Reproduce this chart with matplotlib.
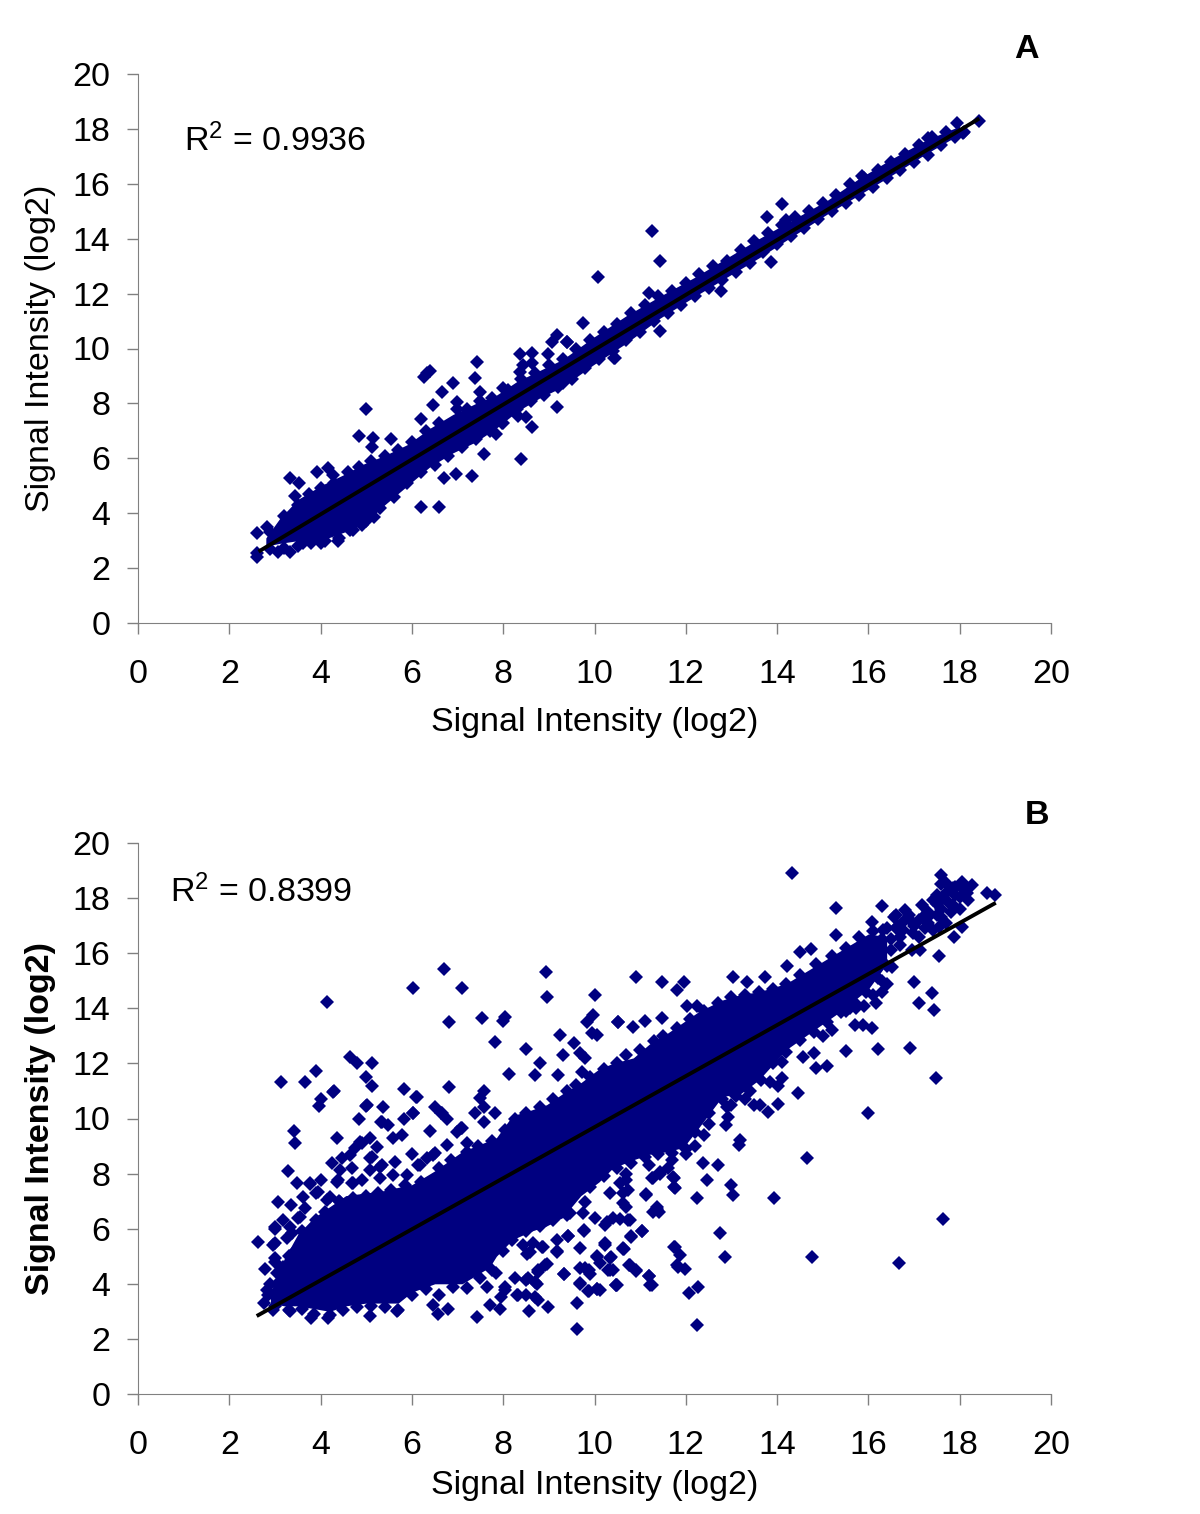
import numpy as np
import matplotlib
matplotlib.use("Agg")
import matplotlib.pyplot as plt

plt.rcParams['font.family'] = ['Liberation Sans', 'DejaVu Sans']
plt.rcParams['mathtext.fontset'] = 'custom'
plt.rcParams['mathtext.rm'] = 'Liberation Sans'
plt.rcParams['mathtext.default'] = 'rm'

NAVY = '#000080'
GREY = '#808080'
FS = 24.5
ticks = [0, 2, 4, 6, 8, 10, 12, 14, 16, 18, 20]
axis_label = 'Signal Intensity (log2)'

# trend lines, read at both ends
a_line_x = [2.64, 18.43]
a_line_y = [2.60, 18.38]
b_line_x = [2.60, 18.79]
b_line_y = [2.83, 17.83]

# solid part of the cloud: single points can't be read there, only its outline
a_core_x = [2.8, 3.1, 3.5, 4.0, 4.5, 4.95, 5.4, 5.9, 6.4, 6.9, 7.4, 7.85, 8.3, 8.8, 9.3, 9.97, 10.7, 11.43,
            12.2, 12.9, 13.6, 14.35, 15.1, 15.8, 16.5, 17.27, 18.0]
a_core_hi = [3.1, 3.8, 4.5, 5.0, 5.4, 5.8, 6.1, 6.5, 7.1, 7.6, 8.0, 8.3, 8.8, 9.2, 9.6, 10.4, 11.2, 11.9,
             12.6, 13.3, 14.0, 14.7, 15.4, 16.2, 16.9, 17.6, 18.1]
a_core_lo = [2.8, 2.9, 3.0, 3.0, 3.3, 3.6, 4.3, 5.0, 5.7, 6.2, 6.6, 7.1, 7.7, 8.2, 8.6, 9.4, 10.2, 11.1,
             11.9, 12.6, 13.3, 14.1, 14.9, 15.6, 16.3, 17.1, 17.8]

b_core_x = [2.9, 3.2, 3.5, 3.85, 4.2, 4.55, 5.0, 5.3, 5.7, 6.0, 6.5, 7.1, 7.7, 7.85, 8.2, 8.6, 8.95, 9.3, 9.7,
            10.1, 10.4, 10.85, 11.2, 11.6, 11.95, 12.3, 12.8, 13.2, 13.6, 14.2, 14.8, 15.4, 16.0, 16.4]
b_core_hi = [3.7, 4.9, 5.8, 6.4, 6.8, 7.2, 7.3, 7.35, 7.5, 7.6, 8.1, 8.8, 9.2, 9.3, 10.1, 10.3, 10.5, 10.9, 11.3,
             11.8, 12.0, 12.2, 12.7, 13.1, 13.5, 13.9, 14.3, 14.5, 14.6, 14.9, 15.5, 16.1, 16.7, 16.6]
b_core_lo = [3.3, 3.2, 3.2, 3.1, 3.0, 3.2, 3.3, 3.3, 3.3, 3.7, 4.0, 4.0, 4.6, 5.0, 5.6, 5.9, 6.1, 6.4, 7.2,
             7.7, 8.2, 8.5, 8.7, 8.8, 8.95, 9.7, 10.8, 10.9, 11.4, 12.5, 13.2, 13.9, 14.7, 15.6]

a_outliers = [
    (2.61, 3.27), (2.61, 2.54), (2.61, 2.42), (3.07, 2.6), (2.82, 3.5), (3.33, 2.6), (3.62, 2.9), (4.0, 2.93),
    (4.39, 3.0), (4.9, 3.57), (4.64, 3.39), (5.17, 3.87), (3.33, 5.3), (3.53, 5.09), (3.93, 5.49), (4.17, 5.66),
    (4.28, 5.39), (3.45, 4.64), (5.0, 7.8), (4.84, 6.81), (5.15, 6.73), (5.12, 6.4), (5.55, 6.69), (6.19, 7.42),
    (6.47, 7.94), (6.27, 8.97), (6.4, 9.19), (6.34, 9.1), (6.66, 8.4), (6.9, 8.73), (7.42, 9.52), (7.38, 8.91),
    (8.37, 9.8), (8.62, 9.85), (9.06, 10.25), (9.17, 10.49), (8.99, 9.8), (8.44, 9.4), (8.37, 9.16), (8.62, 9.46),
    (9.4, 10.25), (6.99, 8.06), (7.49, 8.43), (8.0, 8.55), (6.19, 4.24), (6.59, 4.24), (6.71, 5.3), (6.96, 5.43),
    (7.31, 5.35), (7.58, 6.15), (8.38, 5.96), (7.85, 6.87), (8.33, 7.54), (8.5, 7.49), (8.62, 7.13), (9.17, 7.86),
    (10.45, 9.64), (7.97, 7.27), (9.3, 8.73), (11.27, 14.27), (11.43, 13.2), (10.08, 12.6), (9.75, 10.92),
    (9.39, 10.25), (10.43, 9.67), (11.43, 10.65), (12.78, 12.09), (13.86, 13.14), (13.77, 14.8), (14.1, 15.25),
    (11.2, 12.03), (14.2, 14.68), (18.43, 18.29), (17.93, 18.2), (18.08, 17.84), (17.31, 17.68), (15.85, 16.28),
]
a_upper_edge = [
    (2.9, 3.3), (3.2, 3.9), (3.5, 4.3), (3.75, 4.7), (4.0, 4.9), (4.3, 5.1), (4.6, 5.5), (4.85, 5.7), (5.1, 5.9),
    (5.4, 6.1), (5.7, 6.3), (6.0, 6.6), (6.3, 7.0), (6.6, 7.3), (6.99, 7.8), (7.2, 7.8), (7.5, 8.1), (7.75, 8.2),
    (8.1, 8.5), (8.4, 8.9), (8.7, 9.1), (9.0, 9.4), (9.3, 9.6), (9.6, 10.0), (9.9, 10.3), (10.2, 10.6), (10.5, 10.9),
    (10.8, 11.3), (11.1, 11.6), (11.4, 11.9), (11.7, 12.1), (12.0, 12.4), (12.3, 12.7), (12.6, 13.0), (12.9, 13.2),
    (13.2, 13.6), (13.5, 13.9), (13.8, 14.2), (14.1, 14.5), (14.4, 14.8), (14.7, 15.0), (15.0, 15.3), (15.3, 15.6),
    (15.6, 16.0), (15.9, 16.2), (16.2, 16.5), (16.5, 16.8), (16.8, 17.1), (17.1, 17.4), (17.4, 17.7), (17.7, 17.9),
]
a_lower_edge = [
    (2.9, 2.7), (3.2, 2.75), (3.5, 2.8), (3.8, 2.9), (4.1, 3.0), (4.4, 3.1), (4.7, 3.4), (5.0, 3.7), (5.3, 4.2),
    (5.6, 4.6), (5.9, 5.1), (6.2, 5.5), (6.5, 5.75), (6.8, 6.1), (7.1, 6.4), (7.4, 6.7), (7.7, 7.0), (8.0, 7.3),
    (8.3, 7.8), (8.6, 8.1), (8.9, 8.3), (9.2, 8.6), (9.5, 8.9), (9.8, 9.3), (10.1, 9.6), (10.4, 9.9), (10.7, 10.3),
    (11.0, 10.6), (11.3, 11.0), (11.6, 11.3), (11.9, 11.6), (12.2, 11.9), (12.5, 12.2), (12.8, 12.5), (13.1, 12.8),
    (13.4, 13.1), (13.7, 13.5), (14.0, 13.8), (14.3, 14.1), (14.6, 14.4), (14.9, 14.7), (15.2, 15.0), (15.5, 15.3),
    (15.8, 15.6), (16.1, 15.9), (16.4, 16.2), (16.7, 16.5), (17.0, 16.8), (17.3, 17.05), (17.6, 17.4), (17.9, 17.7),
    (18.1, 17.9),
]

b_left_points = [
    (6.70, 15.41), (6.03, 14.75), (7.10, 14.75), (8.93, 15.33), (8.97, 14.42), (10.01, 14.48), (4.13, 14.22),
    (6.82, 13.49), (7.54, 13.63), (8.04, 13.70), (8.0, 13.55), (7.82, 12.77), (8.5, 12.51), (9.24, 13.03),
    (9.83, 13.51), (9.97, 13.76), (10.52, 13.49), (9.94, 13.09), (10.05, 13.03), (9.54, 12.73), (9.68, 12.37),
    (9.79, 12.18), (9.3, 12.31), (4.64, 12.24), (4.79, 12.0), (5.12, 12.0), (3.89, 11.72), (3.13, 11.31),
    (3.66, 11.34), (5.0, 11.52), (5.12, 11.18), (4.29, 11.01), (4.0, 10.7), (3.97, 10.45), (5.83, 11.06),
    (6.12, 10.79), (6.82, 11.13), (8.13, 11.62), (8.7, 11.58), (8.81, 12.0), (9.21, 11.58), (9.72, 11.7),
    (7.57, 11.01), (7.49, 10.73), (5.0, 10.45), (5.36, 10.4), (4.84, 10.0), (5.83, 10.0), (6.03, 10.2),
    (6.51, 10.4), (6.76, 10.0), (6.64, 10.19), (7.38, 10.19), (7.82, 10.19), (7.57, 10.43), (5.34, 9.89),
    (5.48, 9.77), (3.42, 9.56), (3.45, 9.12), (4.37, 9.28), (6.4, 9.55), (6.98, 9.52), (7.09, 9.64), (7.57, 9.88),
    (5.78, 9.4), (5.59, 9.28), (5.08, 9.28), (4.9, 9.1), (5.23, 8.98), (4.75, 8.92), (6.0, 8.7), (6.76, 9.04),
    (6.47, 8.67), (5.12, 8.62), (4.64, 8.67), (4.46, 8.55), (4.24, 8.37), (3.29, 8.09), (5.63, 8.43), (6.17, 8.31),
    (4.68, 8.19), (5.3, 8.25), (4.0, 7.77), (4.35, 7.71), (3.48, 7.65), (3.77, 7.65), (4.9, 7.77), (5.3, 7.83),
    (4.68, 7.65), (3.06, 6.98), (3.35, 6.86), (3.62, 7.16), (3.91, 7.28), (4.2, 7.16), (2.62, 5.53), (2.78, 4.54),
    (3.0, 6.0), (3.18, 6.3), (3.55, 6.44), (2.96, 5.4), (3.37, 5.83), (3.0, 4.8), (3.18, 4.62), (2.82, 3.77),
    (3.8, 2.75), (4.17, 2.75), (5.08, 2.83), (6.58, 2.9), (7.42, 2.81), (9.61, 2.36), (9.61, 3.29), (8.99, 3.17),
    (8.57, 3.0), (7.93, 3.1), (7.7, 3.23), (6.47, 3.23), (6.8, 3.07), (5.67, 3.0), (3.33, 3.0), (2.96, 3.04),
    (10.49, 3.96), (10.05, 3.8), (9.87, 3.75), (9.68, 4.0), (9.34, 4.35), (9.68, 5.3), (9.76, 5.95), (9.43, 5.75),
    (9.17, 5.59), (10.23, 5.47), (10.63, 5.3), (10.05, 4.98), (10.34, 4.93), (9.87, 4.5), (9.68, 4.56), (10.41, 4.5),
    (8.92, 4.68), (8.77, 4.44), (8.51, 4.14), (8.73, 4.0), (8.3, 3.6), (8.51, 3.6), (8.77, 3.41), (8.04, 3.77),
    (8.26, 4.2), (8.88, 5.35), (9.17, 5.17), (8.59, 5.17), (8.44, 5.41),
    # second read, lower middle of the cloud
    (9.79, 6.98), (10.7, 7.77), (10.63, 7.28), (10.7, 6.8), (10.41, 6.38), (10.23, 6.13), (10.01, 6.38), (9.75, 6.56),
    (9.46, 6.56), (10.78, 6.3), (11.12, 7.25), (11.38, 6.7), (11.43, 8.0), (11.29, 7.83), (11.75, 7.53), (11.73, 7.89),
    (9.43, 5.75), (8.84, 5.35), (8.66, 5.47), (9.77, 5.93), (10.8, 5.74), (11.05, 5.93), (10.64, 5.26), (9.17, 5.2),
    (8.53, 5.07), (10.36, 4.96), (10.05, 5.0), (10.12, 4.74), (8.95, 4.71), (8.77, 4.5), (9.79, 4.56), (10.3, 4.5),
    (10.78, 4.68), (10.92, 4.5), (9.33, 4.34), (9.9, 4.36), (8.55, 4.2), (11.2, 4.3), (8.7, 4.08), (9.68, 4.02),
    (10.48, 3.96), (10.05, 3.81), (9.86, 3.74), (11.25, 3.96), (8.04, 3.9), (7.96, 3.53), (8.33, 3.6), (8.7, 3.53),
    (7.64, 3.9), (11.76, 5.35), (11.8, 4.68), (7.85, 4.4),
    # second read, upper left of the cloud
    (5.01, 10.49), (4.28, 10.97), (6.1, 10.79), (6.03, 10.21), (6.65, 10.19), (5.32, 9.89), (7.07, 9.64), (4.86, 9.16),
    (7.2, 9.1), (6.51, 8.74), (6.32, 8.55), (5.08, 8.55), (5.34, 8.31), (6.14, 8.31), (5.08, 8.13), (4.42, 8.13),
    (4.39, 7.77), (3.77, 7.61), (4.72, 7.65), (5.59, 7.95), (5.89, 7.95), (3.95, 7.34), (4.13, 7.04), (4.42, 6.98),
    (3.66, 6.74), (3.51, 6.38), (3.0, 6.05), (3.0, 5.47), (3.0, 4.92), (3.26, 5.65), (3.47, 5.23), (3.33, 6.07),
    (2.85, 3.6), (2.9, 4.0), (3.05, 4.4), (3.1, 3.5), (2.75, 3.3), (3.1, 4.1),
]
b_right_points = [
    (14.33, 18.9), (15.29, 17.63), (16.29, 17.71), (17.58, 18.84), (18.77, 18.11), (18.59, 18.17), (18.26, 18.47),
    (18.04, 18.6), (17.71, 18.54), (17.64, 17.99), (18.0, 18.05), (18.19, 17.93), (17.86, 17.75), (17.42, 17.93),
    (17.17, 17.75), (17.2, 17.33), (17.5, 17.39), (16.8, 17.57), (16.55, 17.33), (16.95, 17.15), (18.04, 16.96),
    (17.87, 16.58), (17.55, 15.91), (17.13, 16.12), (16.95, 16.12), (17.71, 17.08), (17.42, 16.84), (16.07, 17.15),
    (16.33, 16.84), (15.29, 16.66), (16.69, 16.6), (16.98, 16.72), (14.74, 16.14), (14.5, 16.05), (14.22, 15.54),
    (13.03, 15.15), (13.73, 15.15), (10.92, 15.15), (11.47, 14.94), (11.95, 14.97), (11.8, 14.66), (13.33, 14.97),
    (10.52, 13.49), (11.11, 13.54), (10.85, 13.33), (12.03, 14.08), (12.25, 14.08), (11.47, 13.63), (17.0, 14.94),
    (17.4, 14.54), (17.11, 14.2), (17.44, 13.94), (16.4, 14.87), (16.51, 15.51), (16.17, 14.2), (15.72, 14.02),
    (16.07, 13.3), (15.89, 13.4), (15.71, 13.4), (16.91, 12.57), (16.2, 12.51), (15.52, 12.45), (15.09, 11.9),
    (14.85, 11.85), (14.81, 12.39), (14.57, 12.25), (14.1, 12.06), (14.1, 11.46), (13.84, 11.34), (14.03, 11.18),
    (14.45, 10.91), (17.47, 11.46), (14.03, 10.52), (13.81, 10.25), (13.62, 10.49), (16.0, 10.2), (12.93, 10.07),
    (12.89, 9.76), (13.19, 9.22), (13.17, 9.04), (14.65, 8.55), (12.71, 8.31), (12.38, 8.37), (12.47, 7.77),
    (11.74, 7.83), (11.76, 7.47), (13.0, 7.59), (13.03, 7.22), (12.24, 7.1), (13.94, 7.1), (11.43, 8.07),
    (11.25, 7.83), (11.12, 7.22), (11.36, 6.8), (11.42, 6.6), (11.29, 6.62), (17.63, 6.37), (12.75, 5.85),
    (11.03, 5.93), (10.8, 5.71), (10.63, 5.26), (11.74, 5.35), (11.87, 5.05), (12.86, 4.99), (14.77, 4.99),
    (16.68, 4.75), (11.84, 4.62), (11.98, 4.52), (10.76, 4.68), (10.92, 4.48), (11.2, 4.28), (11.22, 3.96),
    (10.48, 3.96), (12.27, 3.9), (12.08, 3.68), (12.24, 2.5), (10.34, 4.5), (10.12, 3.78), (10.23, 5.41),
    (10.27, 6.25), (10.74, 6.3), (10.56, 6.37), (10.63, 6.92), (10.74, 7.4), (10.56, 7.65), (10.7, 8.0),
    (10.34, 7.3), (16.6, 16.9), (16.8, 17.2), (17.0, 17.0), (17.3, 17.5), (17.5, 17.8), (17.7, 18.2), (17.85, 18.35),
    (18.1, 18.3), (17.6, 18.5), (17.9, 18.1), (17.3, 17.1), (17.6, 17.3), (16.7, 16.3), (17.1, 16.6), (16.5, 16.1),
    (16.2, 16.2),
    # second read, top right cluster and lower flank
    (16.6, 17.4), (16.9, 17.4), (17.1, 17.2), (17.3, 17.3), (17.6, 17.6), (17.8, 17.5), (18.0, 17.6), (17.75, 17.85),
    (17.5, 18.1), (17.9, 18.4), (18.15, 18.2), (16.4, 16.9), (16.65, 17.0), (16.75, 16.85), (17.25, 16.9),
    (17.55, 16.95), (16.5, 16.5), (15.9, 14.1), (16.1, 14.5), (16.3, 15.0), (16.3, 14.6), (15.5, 13.9), (15.6, 14.0),
    (15.2, 13.2), (15.0, 13.0), (13.3, 10.7), (13.5, 10.5), (13.0, 10.5), (12.9, 10.4), (12.5, 9.8), (12.4, 9.4),
    (12.2, 9.0), (12.0, 8.7), (11.7, 8.5), (11.6, 8.2), (11.2, 8.3),
]
b_upper_edge = [
    (3.3, 5.0), (3.6, 5.9), (3.9, 6.3), (4.1, 6.6), (4.4, 7.0), (4.7, 7.1), (5.0, 7.2), (5.25, 7.3), (5.55, 7.4),
    (5.85, 7.6), (6.2, 7.7), (6.6, 8.2), (6.85, 8.5), (7.2, 8.8), (7.45, 9.0), (7.75, 9.2), (8.05, 9.6), (8.25, 10.0),
    (8.5, 10.2), (8.8, 10.4), (9.1, 10.7), (9.4, 11.0), (9.6, 11.2), (9.9, 11.5), (10.2, 11.8), (10.5, 12.0),
    (10.7, 12.3), (11.0, 12.5), (11.3, 12.8), (11.5, 13.0), (11.8, 13.3), (12.1, 13.6), (12.4, 13.9), (12.7, 14.2),
    (13.0, 14.4), (13.3, 14.5), (13.6, 14.6), (13.9, 14.7), (14.2, 14.9), (14.5, 15.2), (14.85, 15.6), (15.2, 15.9),
    (15.5, 16.2), (15.8, 16.6), (16.1, 16.8), (16.3, 16.5),
]
b_lower_edge = [
    (3.0, 3.2), (3.3, 3.05), (3.6, 3.1), (3.85, 2.9), (4.2, 2.85), (4.5, 3.05), (4.8, 3.15), (5.1, 3.2), (5.4, 3.15),
    (5.7, 3.05), (6.0, 3.6), (6.3, 3.8), (6.6, 3.6), (6.9, 3.9), (7.2, 3.85), (7.5, 4.2), (7.75, 4.5), (8.0, 5.2),
    (8.2, 5.6), (8.5, 5.9), (8.8, 6.1), (9.1, 6.3), (9.4, 6.5), (9.6, 7.3), (9.9, 7.5), (10.2, 7.9), (10.5, 8.2),
    (10.8, 8.4), (11.1, 8.6), (11.4, 8.7), (11.7, 8.75), (12.0, 8.9), (12.2, 9.5), (12.5, 10.2), (12.8, 10.7),
    (13.1, 10.8), (13.4, 11.0), (13.65, 11.4), (13.9, 12.0), (14.2, 12.4), (14.5, 12.85), (14.8, 13.15), (15.1, 13.5),
    (15.4, 13.85), (15.7, 14.2), (15.95, 14.6), (16.2, 15.1), (16.4, 15.55),
]


def draw_panel(ax, core_x, core_lo, core_hi, groups, line_x, line_y, ylab_weight, xpad):
    ax.fill_between(core_x, core_lo, core_hi, color=NAVY, lw=0, zorder=2)
    for group in groups:
        pts = np.array(group)
        ax.plot(pts[:, 0], pts[:, 1], 'D', color=NAVY, ms=7.0, mew=0, zorder=2, clip_on=False)
    ax.plot(line_x, line_y, color='black', lw=2.8, zorder=3, solid_capstyle='butt')
    ax.set_xlim(0, 20)
    ax.set_ylim(0, 20)
    ax.set_xticks(ticks)
    ax.set_yticks(ticks)
    ax.tick_params(labelsize=FS, length=8, width=1, color=GREY)
    ax.tick_params(axis='x', pad=18)
    ax.tick_params(axis='y', pad=12)
    ax.spines['top'].set_visible(False)
    ax.spines['right'].set_visible(False)
    ax.spines['left'].set_color(GREY)
    ax.spines['bottom'].set_color(GREY)
    ax.set_xlabel(axis_label, fontsize=FS, labelpad=xpad)
    ax.yaxis.set_label_coords(-0.09, 0.5)
    ax.set_ylabel(axis_label, fontsize=FS, fontweight=ylab_weight)


W, H = 1200, 1514
fig = plt.figure(figsize=(W / 100, H / 100), dpi=100)
ax_a = fig.add_axes([138 / W, 1 - 623 / H, 913 / W, 549 / H])
ax_b = fig.add_axes([138 / W, 1 - 1394 / H, 913 / W, 551 / H])

draw_panel(ax_a, a_core_x, a_core_lo, a_core_hi, [a_outliers, a_upper_edge, a_lower_edge],
           a_line_x, a_line_y, 'normal', 12)
draw_panel(ax_b, b_core_x, b_core_lo, b_core_hi, [b_left_points, b_right_points, b_upper_edge, b_lower_edge],
           b_line_x, b_line_y, 'bold', 6.5)

fig.text(184 / W, 1 - 141 / H, 'R$^2$ = 0.9936', fontsize=FS, va='center', ha='left')
fig.text(170 / W, 1 - 892 / H, 'R$^2$ = 0.8399', fontsize=FS, va='center', ha='left')
fig.text(1026 / W, 1 - 50 / H, 'A', fontsize=FS, fontweight='bold', va='center', ha='center')
fig.text(1037 / W, 1 - 815 / H, 'B', fontsize=FS, fontweight='bold', va='center', ha='center')

fig.savefig('out.png', dpi=100)
